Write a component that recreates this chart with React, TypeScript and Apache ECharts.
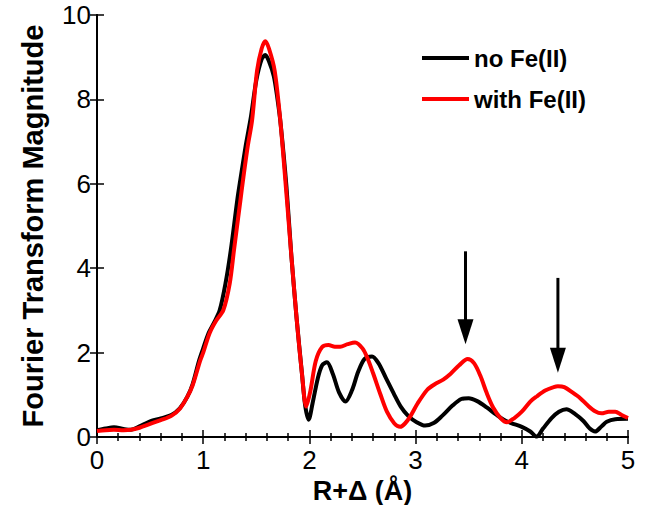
import React, { useEffect, useRef } from "react";
import * as echarts from "echarts";

const xTicks = [0, 1, 2, 3, 4, 5];
const yTicks = [0, 2, 4, 6, 8, 10];
const seriesNames = ["no Fe(II)", "with Fe(II)"];

const noFe: [number, number][] = [
  [0, 0.16], [0.08, 0.2], [0.16, 0.23], [0.25, 0.19], [0.32, 0.17], [0.4, 0.25], [0.5, 0.37],
  [0.6, 0.44], [0.7, 0.52], [0.78, 0.68], [0.85, 0.95], [0.9, 1.25], [0.96, 1.8], [1.0, 2.1],
  [1.05, 2.46], [1.1, 2.7], [1.155, 3.0], [1.21, 3.64], [1.26, 4.43], [1.32, 5.6], [1.35, 6.1],
  [1.4, 6.9], [1.45, 7.6], [1.5, 8.45], [1.55, 8.95], [1.585, 9.05], [1.62, 8.9], [1.665, 8.55],
  [1.7, 8.0], [1.73, 7.4], [1.785, 5.9], [1.83, 4.3], [1.88, 2.8], [1.93, 1.5], [1.96, 0.75],
  [1.993, 0.41], [2.03, 0.8], [2.08, 1.4], [2.12, 1.7], [2.165, 1.77], [2.22, 1.5], [2.28, 1.05],
  [2.34, 0.84], [2.4, 1.1], [2.46, 1.55], [2.52, 1.85], [2.59, 1.91], [2.65, 1.75], [2.72, 1.4],
  [2.8, 1.0], [2.86, 0.72], [2.93, 0.5], [3.01, 0.35], [3.09, 0.27], [3.17, 0.33], [3.25, 0.5],
  [3.35, 0.75], [3.43, 0.9], [3.5, 0.92], [3.58, 0.85], [3.67, 0.7], [3.76, 0.53], [3.83, 0.41],
  [3.9, 0.33], [4.0, 0.24], [4.08, 0.13], [4.14, 0.01], [4.2, 0.2], [4.28, 0.45], [4.35, 0.6],
  [4.42, 0.66], [4.5, 0.55], [4.58, 0.38], [4.64, 0.2], [4.69, 0.13], [4.75, 0.25], [4.8, 0.36],
  [4.88, 0.42], [5.0, 0.43],
];

const withFe: [number, number][] = [
  [0, 0.14], [0.08, 0.16], [0.16, 0.17], [0.25, 0.16], [0.32, 0.17], [0.4, 0.22], [0.5, 0.31],
  [0.6, 0.4], [0.7, 0.5], [0.78, 0.67], [0.85, 0.95], [0.9, 1.22], [0.97, 1.8], [1.0, 2.0],
  [1.06, 2.46], [1.12, 2.75], [1.19, 3.01], [1.25, 3.64], [1.29, 4.43], [1.35, 5.6], [1.375, 6.09],
  [1.42, 6.9], [1.46, 7.5], [1.507, 8.68], [1.55, 9.2], [1.585, 9.38], [1.62, 9.2], [1.673, 8.68],
  [1.726, 7.5], [1.789, 5.6], [1.83, 4.3], [1.88, 2.8], [1.93, 1.5], [1.97, 0.72], [2.01, 1.1],
  [2.06, 1.8], [2.12, 2.13], [2.18, 2.18], [2.24, 2.14], [2.29, 2.14], [2.36, 2.2], [2.43, 2.24],
  [2.5, 2.1], [2.55, 1.85], [2.6, 1.51], [2.67, 1.0], [2.73, 0.6], [2.8, 0.32], [2.855, 0.24],
  [2.9, 0.32], [2.95, 0.49], [3.02, 0.8], [3.11, 1.12], [3.18, 1.25], [3.26, 1.36], [3.33, 1.5],
  [3.41, 1.7], [3.49, 1.85], [3.55, 1.75], [3.61, 1.45], [3.67, 1.04], [3.73, 0.7], [3.8, 0.45],
  [3.86, 0.35], [3.93, 0.45], [4.0, 0.6], [4.08, 0.84], [4.14, 0.96], [4.22, 1.1], [4.3, 1.18],
  [4.34, 1.2], [4.4, 1.18], [4.48, 1.05], [4.55, 0.92], [4.62, 0.75], [4.69, 0.61], [4.75, 0.56],
  [4.82, 0.6], [4.88, 0.6], [4.94, 0.52], [5.0, 0.45],
];

const arrowX = [3.47, 4.34];
const arrowTop = [4.4, 3.77];
const arrowTip = [2.2, 1.52];

const FONT = "'Liberation Sans', Arial, sans-serif";

export default function App() {
  const ref = useRef<HTMLDivElement>(null);
  useEffect(() => {
    if (!ref.current) return;
    const chart = echarts.init(ref.current, null, { renderer: "svg" });
    const axisLine = { show: true, lineStyle: { color: "#000", width: 2 } };
    const tick = { show: true, inside: true, length: 7, lineStyle: { color: "#000", width: 1.5 } };
    const minorTick = { show: true, splitNumber: 5, length: 4, lineStyle: { color: "#000", width: 1.5 } };
    const xMin = xTicks[0];
    const xMax = xTicks[xTicks.length - 1];
    const yMin = yTicks[0];
    const yMax = yTicks[yTicks.length - 1];
    chart.setOption({
      animation: false,
      grid: { left: 97, right: 17, top: 15, bottom: 68, containLabel: false, outerBoundsMode: "none" },
      legend: {
        orient: "vertical",
        left: 417,
        top: 41,
        icon: "rect",
        itemWidth: 47,
        itemHeight: 4,
        itemGap: 17,
        data: seriesNames,
        textStyle: { fontFamily: FONT, fontWeight: "bold", fontSize: 24, color: "#000" },
      },
      xAxis: [
        {
          type: "value",
          min: xMin,
          max: xMax,
          interval: 1,
          axisLine,
          axisTick: tick,
          minorTick: { ...minorTick },
          splitLine: { show: false },
          axisLabel: { fontFamily: FONT, fontSize: 26, color: "#000", margin: 10 },
          name: "R+Δ (Å)",
          nameLocation: "middle",
          nameGap: 22,
          nameTextStyle: { fontFamily: FONT, fontWeight: "bold", fontSize: 27, color: "#000" },
        },
        {
          type: "value",
          position: "top",
          min: xMin,
          max: xMax,
          interval: 1,
          axisLine,
          axisTick: tick,
          minorTick: { ...minorTick },
          splitLine: { show: false },
          axisLabel: { show: false },
        },
      ],
      yAxis: [
        {
          type: "value",
          min: yMin,
          max: yMax,
          interval: 2,
          axisLine,
          axisTick: tick,
          splitLine: { show: false },
          axisLabel: { fontFamily: FONT, fontSize: 26, color: "#000", margin: 6 },
          name: "Fourier Transform Magnitude",
          nameLocation: "middle",
          nameGap: 50,
          nameTextStyle: { fontFamily: FONT, fontWeight: "bold", fontSize: 29, color: "#000" },
        },
        {
          type: "value",
          position: "right",
          min: yMin,
          max: yMax,
          interval: 2,
          axisLine,
          axisTick: tick,
          splitLine: { show: false },
          axisLabel: { show: false },
        },
      ],
      series: [
        {
          name: seriesNames[0],
          type: "line",
          data: noFe,
          smooth: 0.3,
          showSymbol: false,
          symbol: "none",
          lineStyle: { color: "#000", width: 4 },
          itemStyle: { color: "#000" },
        },
        {
          name: seriesNames[1],
          type: "line",
          data: withFe,
          smooth: 0.3,
          showSymbol: false,
          symbol: "none",
          lineStyle: { color: "#ff0000", width: 4 },
          itemStyle: { color: "#ff0000" },
        },
      ],
    });

    const headW = 16;
    const headH = 25;
    const graphics: any[] = [];
    arrowX.forEach((x, i) => {
      const top = chart.convertToPixel({ xAxisIndex: 0, yAxisIndex: 0 }, [x, arrowTop[i]]) as number[];
      const tip = chart.convertToPixel({ xAxisIndex: 0, yAxisIndex: 0 }, [x, arrowTip[i]]) as number[];
      graphics.push({
        type: "line",
        shape: { x1: top[0], y1: top[1], x2: tip[0], y2: tip[1] - headH + 2 },
        style: { stroke: "#000", lineWidth: 3 },
        silent: true,
      });
      graphics.push({
        type: "polygon",
        shape: {
          points: [
            [tip[0] - headW / 2, tip[1] - headH],
            [tip[0] + headW / 2, tip[1] - headH],
            [tip[0], tip[1]],
          ],
        },
        style: { fill: "#000" },
        silent: true,
      });
    });
    chart.setOption({ graphic: graphics });
    return () => chart.dispose();
  }, []);
  return (
    <div
      ref={ref}
      style={{ position: "absolute", left: 0, top: 0, width: 645, height: 505, background: "#fff" }}
    />
  );
}
